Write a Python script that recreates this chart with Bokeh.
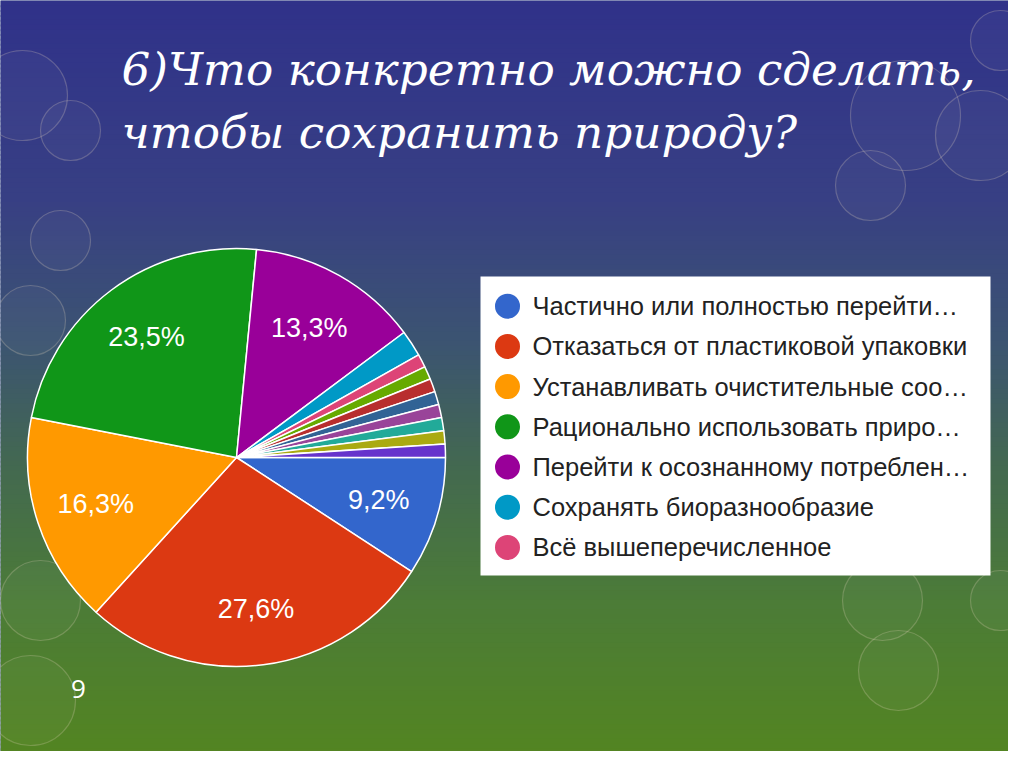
import numpy as np
from bokeh.plotting import figure
from bokeh.models import Range1d, ColumnDataSource
from bokeh.core.properties import value
from bokeh.embed import file_html
from bokeh.resources import INLINE

# ---------------- data ----------------
title_lines = ["6)Что конкретно можно сделать,", "чтобы сохранить природу?"]
slice_counts = [9, 27, 16, 23, 13, 2, 1, 1, 1, 1, 1, 1, 1, 1]
slice_colors = ["#3366cc", "#dc3912", "#ff9900", "#109618", "#990099", "#0099c6",
                "#dd4477", "#66aa00", "#b82e2e", "#316395", "#994499", "#22aa99",
                "#aaaa11", "#6633cc"]
legend_labels = ["Частично или полностью перейти…",
                 "Отказаться от пластиковой упаковки",
                 "Устанавливать очистительные соо…",
                 "Рационально использовать приро…",
                 "Перейти к осознанному потреблен…",
                 "Сохранять биоразнообразие",
                 "Всё вышеперечисленное"]
slide_number = "9"

# ---------------- figure (data coords == picture pixels, y flipped) ----------------
W, H = 1024, 767
p = figure(width=1008, height=751, output_backend="svg", toolbar_location=None,
           x_range=Range1d(0, 1008), y_range=Range1d(H - 751, H), min_border=0)
p.axis.visible = False
p.xgrid.visible = False
p.ygrid.visible = False
p.outline_line_color = None
p.background_fill_color = "#3a4f86"
p.border_fill_color = "#3a4f86"

def Y(py):
    return H - py

# background vertical gradient (decoration); strips overlap to avoid seams
stops_y = [0, 200, 340, 470, 600, 767]
stops_c = [(48, 50, 138), (56, 64, 132), (60, 84, 114), (68, 106, 80), (76, 124, 56), (84, 134, 32)]
n_strips = 160
edges = np.linspace(0, H, n_strips + 1)
step = edges[1] - edges[0]
cols = []
for m in (edges[:-1] + step / 2):
    r = int(np.interp(m, stops_y, [c[0] for c in stops_c]))
    g = int(np.interp(m, stops_y, [c[1] for c in stops_c]))
    b = int(np.interp(m, stops_y, [c[2] for c in stops_c]))
    cols.append("#%02x%02x%02x" % (r, g, b))
p.quad(left=0, right=W, top=[Y(e) for e in edges[:-1]], bottom=[Y(e) - step - 2 for e in edges[:-1]],
       fill_color=cols, line_color=None)

# faint bokeh rings (decoration)
ring_x = [22, 70, 60, 30, 40, 905, 870, 1000, 980, 882, 898, 1000, 30]
ring_y = [95, 130, 240, 320, 600, 115, 185, 40, 135, 600, 670, 600, 700]
ring_r = [45, 30, 30, 35, 40, 55, 35, 30, 45, 40, 40, 30, 45]
p.circle(x=ring_x, y=[Y(v) for v in ring_y], radius=ring_r, fill_color="white", fill_alpha=0.03,
         line_color="#e8d8c0", line_alpha=0.25, line_width=1.2)

# ---------------- pie ----------------
cx, cy, R = 236, Y(457), 209
total = float(sum(slice_counts))
frac = np.array(slice_counts) / total
cum = np.concatenate([[0.0], np.cumsum(frac)])
start_offset = 0.0
ang_before = start_offset - cum[:-1] * 2 * np.pi
ang_after = start_offset - cum[1:] * 2 * np.pi
src = ColumnDataSource(dict(start=ang_after, end=ang_before, color=slice_colors))
p.wedge(x=cx, y=cy, radius=R, start_angle="start", end_angle="end", direction="anticlock",
        fill_color="color", line_color="white", line_width=1.5, source=src)

# percentage labels for the large slices
mid = (ang_before + ang_after) / 2
lx, ly, lt = [], [], []
for i, f in enumerate(frac):
    if f > 0.05:
        lab_r = (0.71 + 0.3 * max(0.0, f - 0.2)) * R
        lx.append(cx + lab_r * np.cos(mid[i]))
        ly.append(cy + lab_r * np.sin(mid[i]))
        lt.append(("%.1f" % (f * 100)).replace(".", ",") + "%")
p.text(x=lx, y=ly, text=lt, text_color="white", text_font=value("Liberation Sans"),
       text_font_size="27px", text_align="center", text_baseline="middle")

# ---------------- legend box ----------------
box_l, box_r, box_t, box_b = 480, 990, 276, 575
p.quad(left=box_l, right=box_r, top=Y(box_t), bottom=Y(box_b), fill_color="white", line_color=None)
row0, row_step = 305.7, 40.2
leg_y = [Y(row0 + i * row_step) for i in range(len(legend_labels))]
p.scatter(x=[507] * len(legend_labels), y=leg_y, marker="circle", size=25,
          fill_color=slice_colors[:len(legend_labels)], line_color=None)
p.text(x=[532] * len(legend_labels), y=leg_y, text=legend_labels, text_color="#222222",
       text_font=value("Liberation Sans"), text_font_size="25.5px", text_baseline="middle")

# ---------------- title & slide number ----------------
p.text(x=[121, 121], y=[Y(69), Y(132)], text=title_lines, text_color="white",
       text_font=value("DejaVu Serif"), text_font_style="italic", text_font_size="45.3px",
       text_baseline="middle")
p.text(x=[78], y=[Y(688)], text=[slide_number], text_color="white",
       text_font=value("Open Sans"), text_font_size="26px", text_align="center", text_baseline="middle")

open("out.html", "w").write(file_html(p, INLINE))
